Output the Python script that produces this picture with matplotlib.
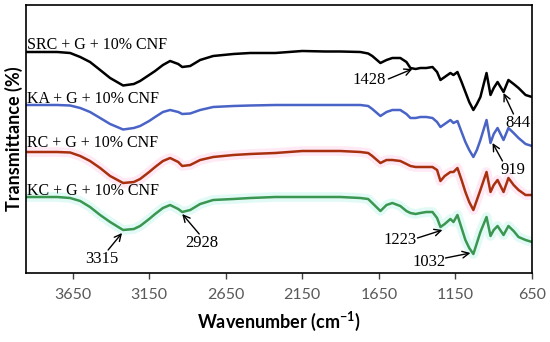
import numpy as np
import matplotlib.pyplot as plt

# wavenumber grid (cm-1)
wavenumber = [3954, 3750, 3666, 3600, 3536, 3470, 3405, 3320, 3250, 3209,
              3150, 3111, 3060, 3013, 2960, 2934, 2882, 2817, 2732, 2600,
              2490, 2326, 2150, 2000, 1902, 1771, 1720, 1693, 1640, 1600,
              1562, 1510, 1470, 1444, 1410, 1379, 1340, 1300, 1270, 1248,
              1220, 1183, 1163, 1137, 1110, 1085, 1060, 1033, 1010, 987,
              947, 921, 900, 875, 836, 804, 770, 738, 692, 650]

# transmittance (offset, arbitrary units)
src = [219, 219, 218, 214, 209, 201, 193, 185.5, 187, 190,
       196, 200, 206, 210, 207, 204, 205, 211, 215, 217,
       218, 218, 220, 219.5, 219.5, 219, 217.5, 215, 208, 211,
       213, 213, 209, 203, 202, 203, 203, 204, 199, 191,
       194, 198, 196, 199, 189, 179, 169, 161, 167, 174,
       198, 176, 183, 189, 179, 191, 187, 183, 176, 174]
ka = [166, 166, 165.5, 163, 159, 153, 147, 141.5, 143, 145,
      150, 154, 159, 161, 159, 157, 157.5, 161, 164, 165,
      165.5, 166, 166, 166, 166, 166, 165, 162, 155, 159,
      161, 161, 157, 153, 153, 154, 154, 153, 149, 144,
      147, 151, 148, 150, 139, 129, 121, 114, 121, 131,
      151, 128, 137, 143, 131, 143, 138, 133, 127, 125]
rc = [119, 119, 118.5, 115, 110, 103, 95, 88, 89, 92,
      99, 104, 110, 113, 109, 105, 106, 111, 114, 116,
      117, 118, 120, 120, 120, 119, 118, 115, 108, 111,
      111, 110, 107, 105, 104, 104, 104, 104, 101, 90,
      95, 99, 99, 103, 91, 79, 69, 61, 71, 81,
      99, 79, 86, 91, 79, 93, 86, 81, 76, 76]
kc = [74, 74, 73, 70, 64, 56, 49, 41, 42, 45,
      52, 57, 63, 66, 62, 59, 61, 67, 71, 72,
      73, 74, 74, 74, 74, 73, 72, 68, 60, 66,
      68, 65, 60, 58, 57, 58, 59, 59, 53, 44,
      47, 52, 49, 56, 43, 31, 23, 17, 28, 39,
      54, 35, 41, 45, 36, 45, 40, 34, 31, 29]

names = ["SRC + G + 10% CNF", "KA + G + 10% CNF", "RC + G + 10% CNF", "KC + G + 10% CNF"]
series = [src, ka, rc, kc]
colors = ["#000000", "#4a63c6", "#a8300f", "#3a9650"]
halos = [None, None, "#ffe0f0", "#d6f9f2"]
label_y = [222, 168, 124, 76]

ticks = [3650, 3150, 2650, 2150, 1650, 1150, 650]

fig = plt.figure(figsize=(5.5, 3.42), dpi=100)
ax = fig.add_axes([0.0473, 0.2032, 0.9200, 0.7822])

for y, c, h in zip(series, colors, halos):
    if h is not None:
        ax.plot(wavenumber, y, color=h, lw=7, alpha=0.7, solid_capstyle="round", zorder=1)
    ax.plot(wavenumber, y, color=c, lw=1.8, zorder=2)

for n, ly in zip(names, label_y):
    ax.text(3948, ly, n, family="Liberation Serif", fontsize=11.5, va="baseline", ha="left", zorder=3)

# peak annotations: (label, text pos, arrow tail, arrow head)
peaks = [
    ("1428", (1712, 191), (1588, 192), (1431, 202)),
    ("844", (745, 148), (771, 157), (836, 178)),
    ("919", (777, 101), (843, 110), (908, 128)),
    ("3315", (3457, 12), (3418, 21), (3327, 38)),
    ("2928", (2804, 28), (2823, 37), (2934, 57)),
    ("1223", (1509, 31), (1398, 33), (1235, 41)),
    ("1032", (1320, 9), (1215, 13), (1052, 18)),
]
for lab, tp, tail, head in peaks:
    ax.text(tp[0], tp[1], lab, family="Liberation Serif", fontsize=12, ha="center", va="center")
    ax.annotate("", xy=head, xytext=tail,
                arrowprops=dict(arrowstyle="->", lw=1.0, color="black",
                                shrinkA=0, shrinkB=0, mutation_scale=12))

ax.set_xlim(3954, 650)
ax.set_ylim(-1.5, 266)
ax.set_xticks(ticks)
ax.set_xticklabels([str(t) for t in ticks], family="Lato", fontsize=11.5, color="#595959")
ax.set_yticks([])
ax.tick_params(axis="x", direction="out", length=4.5, width=1, color="#404040", pad=7)
for s in ax.spines.values():
    s.set_linewidth(1.2)
ax.set_xlabel("Wavenumber (cm$^{\\mathregular{-1}}$)", family="Lato", fontweight="bold", fontsize=13, labelpad=5)
ax.set_ylabel("Transmittance (%)", family="Lato", fontweight="bold", fontsize=13, labelpad=2)

fig.savefig("out.png", dpi=100)
